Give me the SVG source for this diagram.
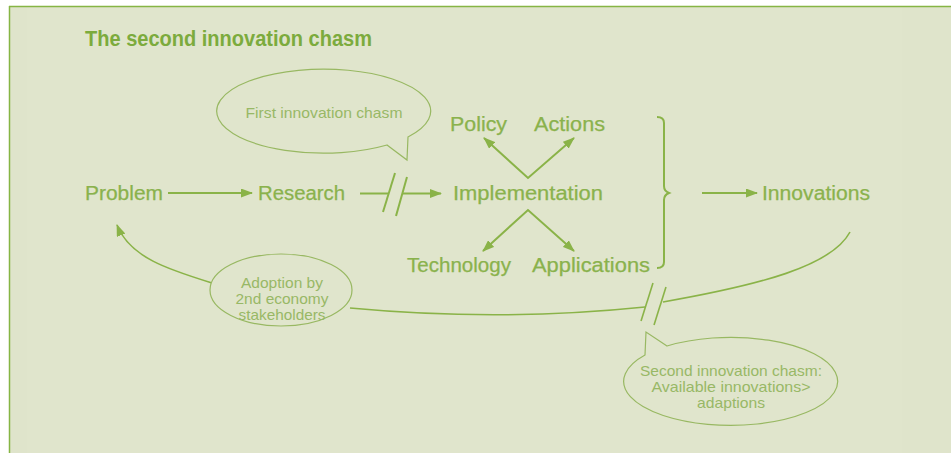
<svg xmlns="http://www.w3.org/2000/svg" width="951" height="453" viewBox="0 0 951 453">
  <style>
    .lbl { font-family: "Liberation Sans", Arial, sans-serif; font-size: 20px; fill: #8ab24c; stroke: #8ab24c; stroke-width: 0.25; }
    .title { font-family: "Liberation Sans", Arial, sans-serif; font-size: 22px; font-weight: bold; fill: #7cab3d; }
    .bub { font-family: "Liberation Sans", Arial, sans-serif; font-size: 15px; fill: #98b866; text-anchor: middle; }
    .conn { stroke: #8ab348; stroke-width: 2; fill: none; }
    .thin { stroke: #8ab348; stroke-width: 1.6; fill: none; }
    .bubble { stroke: #98b862; stroke-width: 1.2; fill: #e0e5cc; }
  </style>
  <defs>
    <marker id="arrow" viewBox="0 0 12 9" refX="11" refY="4.5" markerWidth="12" markerHeight="9" markerUnits="userSpaceOnUse" orient="auto-start-reverse">
      <path d="M0,0 L12,4.5 L0,9 Z" fill="#8ab348"/>
    </marker>
  </defs>

  <!-- page and panel -->
  <rect x="0" y="0" width="951" height="453" fill="#ffffff"/>
  <rect x="9" y="6" width="942" height="447" fill="#e0e5cc"/>
  <rect x="10" y="7" width="17" height="446" fill="#dfe4cb"/>
  <rect x="902" y="7" width="49" height="446" fill="#dfe4cb"/>
  <line x1="9" y1="6.5" x2="951" y2="6.5" stroke="#86b544" stroke-width="1.5"/>
  <line x1="9.5" y1="6" x2="9.5" y2="453" stroke="#86b544" stroke-width="1.5"/>

  <text class="title" x="85" y="46" textLength="287" lengthAdjust="spacingAndGlyphs">The second innovation chasm</text>

  <!-- connectors -->
  <g id="connectors">
    <line class="conn" x1="168" y1="193" x2="252" y2="193" marker-end="url(#arrow)"/>
    <line class="conn" x1="360" y1="193.5" x2="388" y2="193.5"/>
    <line class="conn" x1="402" y1="193.5" x2="441" y2="193.5" marker-end="url(#arrow)"/>
    <line class="conn" x1="395" y1="173" x2="383" y2="212"/>
    <line class="conn" x1="407" y1="177" x2="396" y2="216"/>

    <polyline class="conn" points="484,138 528,178 574,138" marker-start="url(#arrow)" marker-end="url(#arrow)"/>
    <polyline class="conn" points="483,251 528,210 574,251" marker-start="url(#arrow)" marker-end="url(#arrow)"/>

    <!-- brace around the implementation outcomes -->
    <path class="conn" stroke-width="2.4" d="M657,117 Q664,117 664,123 L664,186 Q664,191 669,193 Q664,195 664,200 L664,262 Q664,268 657,268"/>

    <line class="conn" x1="702" y1="193" x2="757" y2="193" marker-end="url(#arrow)"/>

    <!-- feedback loop from innovations back to problem -->
    <path class="thin" d="M850,232 C832,266 760,285 663,302"/>
    <path class="thin" d="M645,307 Q500,322 350,308"/>
    <line class="thin" x1="653" y1="283" x2="641" y2="321"/>
    <line class="thin" x1="666" y1="287" x2="654" y2="325"/>
    <path class="thin" d="M212,283 C170,270 130,258 117,225" marker-end="url(#arrow)"/>
  </g>

  <g id="problem"><text class="lbl" x="85" y="200" textLength="78" lengthAdjust="spacingAndGlyphs">Problem</text></g>
  <g id="research"><text class="lbl" x="258" y="200" textLength="87" lengthAdjust="spacingAndGlyphs">Research</text></g>
  <g id="implementation"><text class="lbl" x="453" y="200" textLength="150" lengthAdjust="spacingAndGlyphs">Implementation</text></g>
  <g id="policy"><text class="lbl" x="450" y="131" textLength="57" lengthAdjust="spacingAndGlyphs">Policy</text></g>
  <g id="actions"><text class="lbl" x="534" y="131" textLength="71" lengthAdjust="spacingAndGlyphs">Actions</text></g>
  <g id="technology"><text class="lbl" x="407" y="272" textLength="104" lengthAdjust="spacingAndGlyphs">Technology</text></g>
  <g id="applications"><text class="lbl" x="532" y="272" textLength="118" lengthAdjust="spacingAndGlyphs">Applications</text></g>
  <g id="innovations"><text class="lbl" x="762" y="200" textLength="108" lengthAdjust="spacingAndGlyphs">Innovations</text></g>

  <g id="first-chasm">
    <path class="bubble" d="M387,145 L407,160 L408,137 A107,42 0 1 0 387,145 Z"/>
    <text class="bub" x="324" y="118" textLength="157" lengthAdjust="spacingAndGlyphs">First innovation chasm</text>
  </g>

  <g id="adoption">
    <ellipse class="bubble" cx="281" cy="290" rx="71" ry="36"/>
    <text class="bub" x="282" y="288" textLength="82" lengthAdjust="spacingAndGlyphs">Adoption by</text>
    <text class="bub" x="282" y="304" textLength="93" lengthAdjust="spacingAndGlyphs">2nd economy</text>
    <text class="bub" x="282" y="320" textLength="87" lengthAdjust="spacingAndGlyphs">stakeholders</text>
  </g>

  <g id="second-chasm">
    <path class="bubble" d="M667,346 L646,332 L645,355 A107,44 0 1 0 667,346 Z"/>
    <text class="bub" x="731" y="376" textLength="182" lengthAdjust="spacingAndGlyphs">Second innovation chasm:</text>
    <text class="bub" x="731" y="392" textLength="159" lengthAdjust="spacingAndGlyphs">Available innovations&gt;</text>
    <text class="bub" x="731" y="408" textLength="68" lengthAdjust="spacingAndGlyphs">adaptions</text>
  </g>
</svg>
